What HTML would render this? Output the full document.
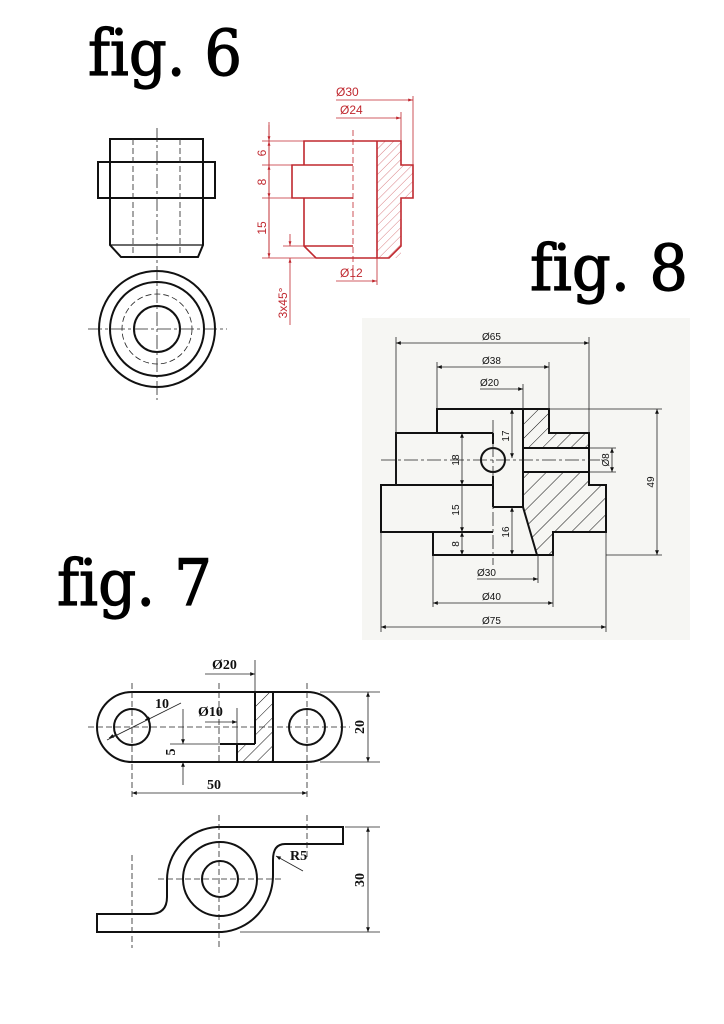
<!DOCTYPE html>
<html><head><meta charset="utf-8"><style>
html,body{margin:0;padding:0;background:#fff}
svg{display:block}
.t{font-family:"DejaVu Serif","Liberation Serif",serif;font-size:64px;fill:#000;stroke:#000;stroke-width:1.2;font-variant-ligatures:none}
.k{stroke:#111;fill:none;stroke-width:2}
.th{stroke:#222;fill:none;stroke-width:0.8}
.r{stroke:#c0282f;fill:none;stroke-width:1.6}
.rt{stroke:#c0282f;fill:none;stroke-width:0.8}
.rs{font-family:"Liberation Sans",sans-serif;font-size:12px;fill:#c0282f}
.ds{font-family:"Liberation Sans",sans-serif;font-size:10px;fill:#111}
.sf{font-family:"Liberation Serif",serif;font-size:14px;font-weight:bold;fill:#111}
.dash{stroke-dasharray:6 3}
.cl{stroke-dasharray:14 3 3 3}
</style></head><body>
<svg width="724" height="1024" viewBox="0 0 724 1024" xmlns="http://www.w3.org/2000/svg">
<defs>
<marker id="a" viewBox="0 0 10 10" refX="10" refY="5" markerWidth="9" markerHeight="6" orient="auto-start-reverse"><path d="M0,1 L10,5 L0,9 Z" fill="#111"/></marker>
<marker id="ar" viewBox="0 0 10 10" refX="10" refY="5" markerWidth="8" markerHeight="6" orient="auto-start-reverse"><path d="M0,2 L10,5 L0,8 Z" fill="#c0282f"/></marker>
<pattern id="hr" width="6" height="6" patternUnits="userSpaceOnUse" patternTransform="rotate(45)"><line x1="0" y1="0" x2="0" y2="6" stroke="#c0282f" stroke-width="0.6"/></pattern>
<pattern id="hk" width="10" height="10" patternUnits="userSpaceOnUse" patternTransform="rotate(45)"><line x1="0" y1="0" x2="0" y2="10" stroke="#111" stroke-width="1"/></pattern>
<pattern id="hk2" width="12" height="12" patternUnits="userSpaceOnUse" patternTransform="rotate(45)"><line x1="0" y1="0" x2="0" y2="12" stroke="#111" stroke-width="1"/></pattern>
</defs>

<text class="t" x="88" y="75" textLength="154" lengthAdjust="spacingAndGlyphs">fig. 6</text>
<text class="t" x="530" y="290" textLength="158" lengthAdjust="spacingAndGlyphs">fig. 8</text>
<text class="t" x="57" y="605" textLength="155" lengthAdjust="spacingAndGlyphs">fig. 7</text>

<!-- FIG 6 left -->
<g class="k">
<path d="M110,198 V139 H203 V198"/>
<rect x="98" y="162" width="117" height="36"/>
<path d="M110,198 V245 L121,257 H198 L203,245 V198"/>
<line x1="110" y1="245" x2="203" y2="245" stroke-width="1.2"/>
<circle cx="157" cy="329" r="58"/><circle cx="157" cy="329" r="47"/><circle cx="157" cy="329" r="23"/>
</g>
<g class="th">
<line x1="133" y1="139" x2="133" y2="257" class="th dash"/>
<line x1="180" y1="139" x2="180" y2="257" class="th dash"/>
<line x1="157" y1="128" x2="157" y2="400" class="th cl"/>
<line x1="88" y1="329" x2="227" y2="329" class="th cl"/>
<circle cx="157" cy="329" r="35" class="th dash"/>
</g>

<!-- FIG 6 red section -->
<rect x="377" y="141" width="24" height="117" fill="url(#hr)"/>
<path d="M401,165 H413 V198 H401" fill="url(#hr)" stroke="none"/>
<g class="r">
<path d="M304,165 V141 H401 V165 H413 V198 H401 V246 L389,258 H316 L304,246 V198"/>
<path d="M304,165 H292 V198 H304"/>
<line x1="377" y1="141" x2="377" y2="258"/>
<line x1="304" y1="165" x2="353" y2="165"/>
<line x1="304" y1="198" x2="353" y2="198"/>
<line x1="304" y1="246" x2="353" y2="246"/>
</g>
<g class="rt">
<line x1="353" y1="130" x2="353" y2="282" class="rt dash"/>
<line x1="262" y1="141" x2="304" y2="141"/><line x1="262" y1="165" x2="292" y2="165"/>
<line x1="262" y1="198" x2="292" y2="198"/><line x1="262" y1="258" x2="316" y2="258"/>
<line x1="283" y1="246" x2="304" y2="246"/>
<line x1="269" y1="122" x2="269" y2="258"/>
<line x1="269" y1="125" x2="269" y2="141" marker-end="url(#ar)"/>
<line x1="269" y1="165" x2="269" y2="141" marker-end="url(#ar)"/>
<line x1="269" y1="165" x2="269" y2="198" marker-end="url(#ar)" marker-start="url(#ar)"/>
<line x1="269" y1="198" x2="269" y2="258" marker-end="url(#ar)"/>
<line x1="290" y1="234" x2="290" y2="246" marker-end="url(#ar)"/>
<line x1="290" y1="325" x2="290" y2="258" marker-end="url(#ar)"/>
<line x1="336" y1="100" x2="413" y2="100" marker-end="url(#ar)"/>
<line x1="413" y1="96" x2="413" y2="165"/>
<line x1="336" y1="118" x2="401" y2="118" marker-end="url(#ar)"/>
<line x1="401" y1="112" x2="401" y2="141"/>
<line x1="336" y1="281" x2="377" y2="281" marker-end="url(#ar)"/>
<line x1="377" y1="258" x2="377" y2="285"/>
</g>
<text class="rs" x="336" y="96">Ø30</text>
<text class="rs" x="340" y="114">Ø24</text>
<text class="rs" x="340" y="277">Ø12</text>
<text class="rs" transform="translate(266,153) rotate(-90)" text-anchor="middle">6</text>
<text class="rs" transform="translate(266,182) rotate(-90)" text-anchor="middle">8</text>
<text class="rs" transform="translate(266,228) rotate(-90)" text-anchor="middle">15</text>
<text class="rs" transform="translate(287,303) rotate(-90)" text-anchor="middle">3x45°</text>

<!-- FIG 8 -->
<rect x="362" y="318" width="328" height="322" fill="#f6f6f3"/>
<path d="M523,409 H549 V433 H589 V448 H523 Z" fill="url(#hk)"/>
<path d="M523,472 H589 V485 H606 V532 H553 V555 H537 L523,507 Z" fill="url(#hk2)"/>
<g class="k" stroke-width="1.6">
<path d="M437,433 V409 H549 V433 H589 V485 H606 V532 H553 V555 H433 V532 H381 V485 H396 V433 H437"/>
<line x1="396" y1="433" x2="493" y2="433"/>
<line x1="523" y1="409" x2="523" y2="507"/>
<line x1="523" y1="507" x2="537" y2="555"/>
<line x1="523" y1="448" x2="589" y2="448"/>
<line x1="523" y1="472" x2="589" y2="472"/>
<line x1="493" y1="433" x2="493" y2="444"/>
<line x1="493" y1="476" x2="493" y2="507"/>
<line x1="493" y1="507" x2="523" y2="507"/>
<line x1="381" y1="532" x2="493" y2="532"/>
<line x1="396" y1="485" x2="493" y2="485"/>
<circle cx="493" cy="460" r="12"/>
</g>
<g class="th">
<line x1="381" y1="460" x2="600" y2="460" class="th cl"/>
<line x1="493" y1="420" x2="493" y2="565" class="th cl"/>
<line x1="396" y1="337" x2="396" y2="485"/><line x1="589" y1="337" x2="589" y2="433"/>
<line x1="437" y1="362" x2="437" y2="409"/><line x1="549" y1="362" x2="549" y2="409"/>
<line x1="523" y1="384" x2="523" y2="409"/>
<line x1="396" y1="343" x2="589" y2="343" marker-start="url(#a)" marker-end="url(#a)"/>
<line x1="437" y1="367" x2="549" y2="367" marker-start="url(#a)" marker-end="url(#a)"/>
<line x1="480" y1="389" x2="523" y2="389" marker-end="url(#a)"/>
<line x1="462" y1="433" x2="462" y2="485" marker-start="url(#a)" marker-end="url(#a)"/>
<line x1="462" y1="485" x2="462" y2="532" marker-end="url(#a)"/>
<line x1="462" y1="532" x2="462" y2="555" marker-start="url(#a)" marker-end="url(#a)"/>
<line x1="512" y1="409" x2="512" y2="458" marker-start="url(#a)" marker-end="url(#a)"/>
<line x1="512" y1="507" x2="512" y2="555" marker-start="url(#a)" marker-end="url(#a)"/>
<line x1="589" y1="448" x2="616" y2="448"/><line x1="589" y1="472" x2="616" y2="472"/>
<line x1="612" y1="448" x2="612" y2="472" marker-start="url(#a)" marker-end="url(#a)"/>
<line x1="549" y1="409" x2="662" y2="409"/><line x1="606" y1="555" x2="662" y2="555"/>
<line x1="657" y1="409" x2="657" y2="555" marker-start="url(#a)" marker-end="url(#a)"/>
<line x1="538" y1="555" x2="538" y2="583"/>
<line x1="477" y1="579" x2="538" y2="579" marker-end="url(#a)"/>
<line x1="433" y1="555" x2="433" y2="607"/><line x1="553" y1="555" x2="553" y2="607"/>
<line x1="433" y1="603" x2="553" y2="603" marker-start="url(#a)" marker-end="url(#a)"/>
<line x1="381" y1="532" x2="381" y2="632"/><line x1="606" y1="532" x2="606" y2="632"/>
<line x1="381" y1="627" x2="606" y2="627" marker-start="url(#a)" marker-end="url(#a)"/>
</g>
<text class="ds" x="482" y="340">Ø65</text>
<text class="ds" x="482" y="364">Ø38</text>
<text class="ds" x="480" y="386">Ø20</text>
<text class="ds" x="477" y="576">Ø30</text>
<text class="ds" x="482" y="600">Ø40</text>
<text class="ds" x="482" y="624">Ø75</text>
<text class="ds" transform="translate(459,460) rotate(-90)" text-anchor="middle">18</text>
<text class="ds" transform="translate(459,510) rotate(-90)" text-anchor="middle">15</text>
<text class="ds" transform="translate(459,544) rotate(-90)" text-anchor="middle">8</text>
<text class="ds" transform="translate(509,436) rotate(-90)" text-anchor="middle">17</text>
<text class="ds" transform="translate(509,532) rotate(-90)" text-anchor="middle">16</text>
<text class="ds" transform="translate(609,460) rotate(-90)" text-anchor="middle">Ø8</text>
<text class="ds" transform="translate(654,482) rotate(-90)" text-anchor="middle">49</text>

<!-- FIG 7 top view -->
<path d="M255,692 H273 V762 H237 V744 H255 Z" fill="url(#hk)"/>
<g class="k">
<path d="M132,692 H307 A35,35 0 0 1 307,762 H132 A35,35 0 0 1 132,692 Z"/>
<circle cx="132" cy="727" r="18"/><circle cx="307" cy="727" r="18"/>
<line x1="255" y1="692" x2="255" y2="744"/>
<line x1="273" y1="692" x2="273" y2="762"/>
<line x1="237" y1="744" x2="237" y2="762"/>
<line x1="220" y1="744" x2="255" y2="744"/>
</g>
<g class="th">
<line x1="132" y1="683" x2="132" y2="800" class="th dash"/>
<line x1="219" y1="683" x2="219" y2="762" class="th dash"/>
<line x1="307" y1="683" x2="307" y2="800" class="th dash"/>
<line x1="88" y1="727" x2="350" y2="727" class="th dash"/>
<line x1="255" y1="660" x2="255" y2="692"/>
<line x1="205" y1="674" x2="255" y2="674" marker-end="url(#a)"/>
<line x1="237" y1="708" x2="237" y2="744"/>
<line x1="205" y1="722" x2="237" y2="722" marker-end="url(#a)"/>
<line x1="183" y1="709" x2="183" y2="744" marker-end="url(#a)"/>
<line x1="183" y1="785" x2="183" y2="762" marker-end="url(#a)"/>
<line x1="170" y1="744" x2="220" y2="744"/>
<line x1="181" y1="703" x2="107" y2="740"/>
<line x1="150" y1="718" x2="145" y2="720" marker-end="url(#a)"/>
<line x1="115" y1="735" x2="109" y2="738" marker-end="url(#a)"/>
<line x1="132" y1="793" x2="307" y2="793" marker-start="url(#a)" marker-end="url(#a)"/>
<line x1="320" y1="692" x2="380" y2="692"/><line x1="320" y1="762" x2="380" y2="762"/>
<line x1="368" y1="692" x2="368" y2="762" marker-start="url(#a)" marker-end="url(#a)"/>
</g>
<text class="sf" x="212" y="669">Ø20</text>
<text class="sf" x="198" y="716">Ø10</text>
<text class="sf" x="155" y="708">10</text>
<text class="sf" x="207" y="789">50</text>
<text class="sf" transform="translate(175,752) rotate(-90)" text-anchor="middle">5</text>
<text class="sf" transform="translate(364,727) rotate(-90)" text-anchor="middle">20</text>

<!-- FIG 7 bottom view -->
<g class="k">
<path d="M217,827 H343 V844 H285 Q273,844 273,860 V875 A55,57 0 0 1 222,932 H97 V914 H150 Q167,914 167,897 V880 A53,53 0 0 1 217,827 Z"/>
<circle cx="220" cy="879" r="37"/><circle cx="220" cy="879" r="18"/>
</g>
<g class="th">
<line x1="132" y1="855" x2="132" y2="948" class="th dash"/>
<line x1="219" y1="815" x2="219" y2="948" class="th dash"/>
<line x1="307" y1="815" x2="307" y2="860" class="th dash"/>
<line x1="158" y1="879" x2="283" y2="879" class="th dash"/>
<line x1="303" y1="871" x2="276" y2="856" marker-end="url(#a)"/>
<line x1="345" y1="827" x2="380" y2="827"/><line x1="240" y1="932" x2="380" y2="932"/>
<line x1="368" y1="827" x2="368" y2="932" marker-start="url(#a)" marker-end="url(#a)"/>
</g>
<text class="sf" x="290" y="860">R5</text>
<text class="sf" transform="translate(364,880) rotate(-90)" text-anchor="middle">30</text>
</svg>
</body></html>
